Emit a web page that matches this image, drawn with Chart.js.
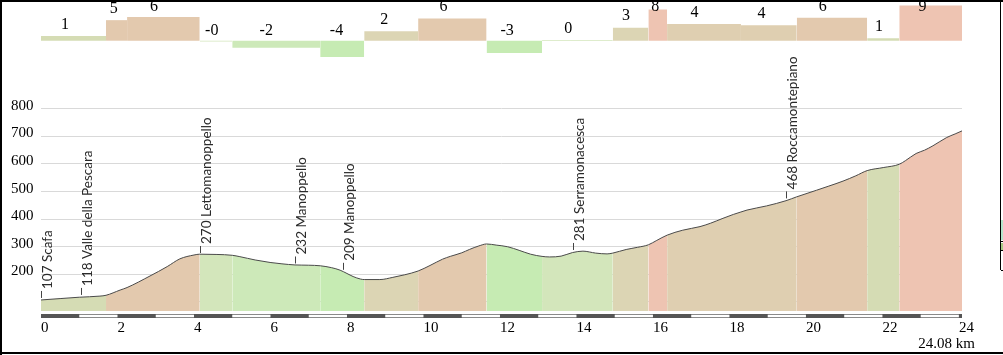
<!DOCTYPE html>
<html><head><meta charset="utf-8">
<script src="https://cdn.jsdelivr.net/npm/chart.js@4.4.0/dist/chart.umd.min.js"></script>
<style>
html,body{margin:0;padding:0;background:#fff;}
#wrap{position:relative;width:1003px;height:355px;overflow:hidden;background:#fff;}
canvas{position:absolute;left:0;top:0;}
.ln{position:absolute;background:#000;}
</style></head><body>
<div id="wrap">
<canvas id="prof" width="1003" height="355"></canvas>
<canvas id="grad" width="1003" height="62"></canvas>
<div class="ln" style="left:0;top:0;width:1003px;height:2px"></div>
<div class="ln" style="left:0;top:0;width:2px;height:355px"></div>
<div class="ln" style="left:0;top:352px;width:1003px;height:2px"></div>
<div class="ln" style="left:1000px;top:0;width:1px;height:270px"></div>
<div style="position:absolute;left:1001px;top:220px;width:2px;height:20px;background:#b4e6cc"></div>
<div class="ln" style="left:1001px;top:241px;width:2px;height:1px"></div>
<div style="position:absolute;left:1001px;top:243px;width:2px;height:7px;background:#a9c987"></div>
<div class="ln" style="left:1001px;top:250px;width:2px;height:1px"></div>
<div class="ln" style="left:1001px;top:270px;width:2px;height:1px"></div>
</div>
<script>
// ---- data ----
const totalKm = 24.08;
const distKm = [0,0.5,1.0,1.54,1.7,2.07,2.25,2.85,3.3,3.63,4.0,4.15,4.6,5.0,5.2,5.6,5.99,6.3,6.64,7.0,7.3,7.6,7.82,8.0,8.16,8.35,8.45,8.86,9.2,9.5,9.86,10.17,10.5,10.7,11.0,11.2,11.45,11.65,11.9,12.2,12.5,12.8,13.1,13.3,13.6,13.9,14.17,14.5,14.8,14.95,15.3,15.6,15.88,16.1,16.37,16.78,17.23,17.5,17.83,18.1,18.3,18.46,18.97,19.48,19.76,20.28,20.6,20.97,21.3,21.6,22.02,22.44,22.6,22.88,23.1,23.32,23.68,23.9,24.08];
const elevM = [107,112,117,121,124,143,152,194,228,256,270,273,272,269,264,252,243,238,234,233,231,224,215,203,192,183,181,181,189,198,212,232,255,265,278,290,303,310,306,300,287,273,265,263,266,279,284,277,274,277,290,298,307,323,342,360,373,385,403,417,426,433,448,467,481,505,520,538,557,576,587,599,612,638,650,666,696,709,720];
const segBounds = [0,1.7,2.25,4.15,5.0,7.3,8.45,9.86,11.65,13.1,14.95,15.88,16.37,18.3,19.76,21.6,22.44,24.08];
const segGrades = [1.2,5.2,6.0,-0.2,-1.8,-4.1,2.4,5.6,-3.1,0.2,3.3,7.9,4.2,3.9,5.8,0.6,8.9];
const segLabels = ['1','5','6','-0','-2','-4','2','6','-3','0','3','8','4','4','6','1','9'];
const placeKm = [0,1.05,4.15,6.64,7.9,13.9,19.48];
const placeElev = [107,118,270,232,209,281,468];
const placeNames = ['Scafa','Valle della Pescara','Lettomanoppello','Manoppello','Manoppello','Serramonacesca','Roccamontepiano'];
const xTickValues = [0,2,4,6,8,10,12,14,16,18,20,22,24];
const yTickValues = [100,200,300,400,500,600,700,800];
const distanceLabel = '24.08 km';

// ---- styling helpers ----
function gradeColor(g){
  if (g <= -3) return '#c6ebb3';
  if (g <= -1) return '#cde9b9';
  if (g < 0.5) return '#d3e6bb';
  if (g < 2) return '#d5dcb4';
  if (g < 3.5) return '#dcd5b4';
  if (g < 5) return '#dfcfb1';
  if (g < 7) return '#e3c9ae';
  return '#eec4b2';
}
function segIndexAt(km){
  for (let i=0;i<segGrades.length;i++){ if (km>=segBounds[i] && km<segBounds[i+1]) return i; }
  return segGrades.length-1;
}
const serif = 'Liberation Serif, Times New Roman, serif';

// ---- profile chart ----
const decor = {
  id:'decor',
  afterDatasetsDraw(chart){
    const ctx = chart.ctx, xs = chart.scales.x, ys = chart.scales.y;
    ctx.save();
    ctx.font = '13.5px Lato, sans-serif';
    ctx.fillStyle = '#2a2a2a';
    ctx.strokeStyle = '#444';
    ctx.lineWidth = 1;
    placeKm.forEach((km,i)=>{
      const x = Math.round(xs.getPixelForValue(km));
      const y = ys.getPixelForValue(placeElev[i]) - 2;
      ctx.beginPath(); ctx.moveTo(x+0.5,y); ctx.lineTo(x+0.5,y-7); ctx.stroke();
      ctx.save();
      ctx.translate(x, y-9);
      ctx.rotate(-Math.PI/2);
      ctx.textAlign='left'; ctx.textBaseline='top';
      ctx.fillText(placeElev[i]+' '+placeNames[i], 0, 0);
      ctx.restore();
    });
    ctx.restore();
  },
  afterDraw(chart){
    const ctx = chart.ctx, xs = chart.scales.x;
    ctx.save();
    const y0 = 314, h = 4;
    const xa = xs.getPixelForValue(0), xb = xs.getPixelForValue(totalKm);
    ctx.fillStyle = '#fff';
    ctx.fillRect(xa, y0, xb-xa, h);
    ctx.strokeStyle = '#8a8a8a'; ctx.lineWidth = 1;
    ctx.strokeRect(xa+0.5, y0+0.5, xb-xa-1, h-1);
    ctx.fillStyle = '#555';
    for (let k=0;k<Math.ceil(totalKm);k+=2){
      const a = xs.getPixelForValue(k), b = xs.getPixelForValue(Math.min(k+1,totalKm));
      ctx.fillRect(a, y0, b-a, h);
    }
    ctx.fillRect(xs.getPixelForValue(24), y0, xb - xs.getPixelForValue(24), h);
    ctx.font = '15px ' + serif;
    ctx.fillStyle = '#000';
    ctx.textAlign = 'right'; ctx.textBaseline = 'alphabetic';
    ctx.fillText(distanceLabel, 975, 348);
    ctx.restore();
  }
};

new Chart(document.getElementById('prof'), {
  type:'line',
  data:{datasets:[{
    data: distKm.map((x,i)=>({x:x, y:elevM[i]})),
    borderColor:'#4a4a4a', borderWidth:1, pointRadius:0,
    fill:'start', backgroundColor:'#ddd',
    cubicInterpolationMode:'monotone',
    segment:{ backgroundColor: c => gradeColor(segGrades[segIndexAt((c.p0.parsed.x + c.p1.parsed.x)/2)]) }
  }]},
  options:{
    responsive:false, animation:false, events:[],
    layout:{padding:{left:11,right:41,top:100,bottom:0}},
    plugins:{legend:{display:false}, tooltip:{enabled:false}},
    scales:{
      x:{type:'linear', min:0, max:totalKm,
         grid:{display:false, drawTicks:false}, border:{display:false},
         afterFit: s => { s.height = 44; },
         afterBuildTicks: s => { s.ticks = xTickValues.map(v=>({value:v})); },
         ticks:{align:'start', padding:8, maxRotation:0, autoSkip:false, color:'#000',
                font:{family:serif, size:15}}},
      y:{min:67, max:832, z:1,
         grid:{color:'#d9d9d9', drawTicks:false}, border:{display:false},
         afterFit: s => { s.width = 30; },
         afterBuildTicks: s => { s.ticks = yTickValues.map(v=>({value:v})); },
         ticks:{crossAlign:'far', padding:0, labelOffset:-3, color:'#000',
                font:{family:serif, size:15},
                callback: v => v === 100 ? '' : String(v)}}
    }
  },
  plugins:[decor]
});

// ---- gradient bars chart ----
const gradeLabels = {
  id:'gradeLabels',
  afterDatasetsDraw(chart){
    const ctx = chart.ctx, xs = chart.scales.x, ys = chart.scales.y;
    ctx.save();
    ctx.font = '16px ' + serif;
    ctx.fillStyle = '#000';
    ctx.textAlign = 'center'; ctx.textBaseline = 'middle';
    const base = ys.getPixelForValue(0);
    segGrades.forEach((g,i)=>{
      const x0 = xs.getPixelForValue(segBounds[i]), x1 = xs.getPixelForValue(segBounds[i+1]);
      const w = x1 - x0;
      const cx = (x0+x1)/2 - Math.min(10, 0.13*w);
      let cy;
      if (g > 0) cy = Math.max(7, ys.getPixelForValue(g) - 11.5);
      else cy = base - 10;
      ctx.fillText(segLabels[i], cx, cy);
    });
    ctx.restore();
  }
};

new Chart(document.getElementById('grad'), {
  type:'line',
  data:{datasets: segGrades.map((g,i)=>({
    data:[{x:segBounds[i], y:g},{x:segBounds[i+1], y:g}],
    fill:'origin', backgroundColor: gradeColor(g),
    borderWidth:0, borderColor:'rgba(0,0,0,0)', pointRadius:0
  }))},
  options:{
    responsive:false, animation:false, events:[],
    layout:{padding:{left:41,right:41,top:0,bottom:0}},
    plugins:{legend:{display:false}, tooltip:{enabled:false}},
    scales:{
      x:{type:'linear', min:0, max:totalKm, display:false},
      y:{min:-5.39, max:10.3, display:false}
    }
  },
  plugins:[gradeLabels]
});
</script>
</body></html>
